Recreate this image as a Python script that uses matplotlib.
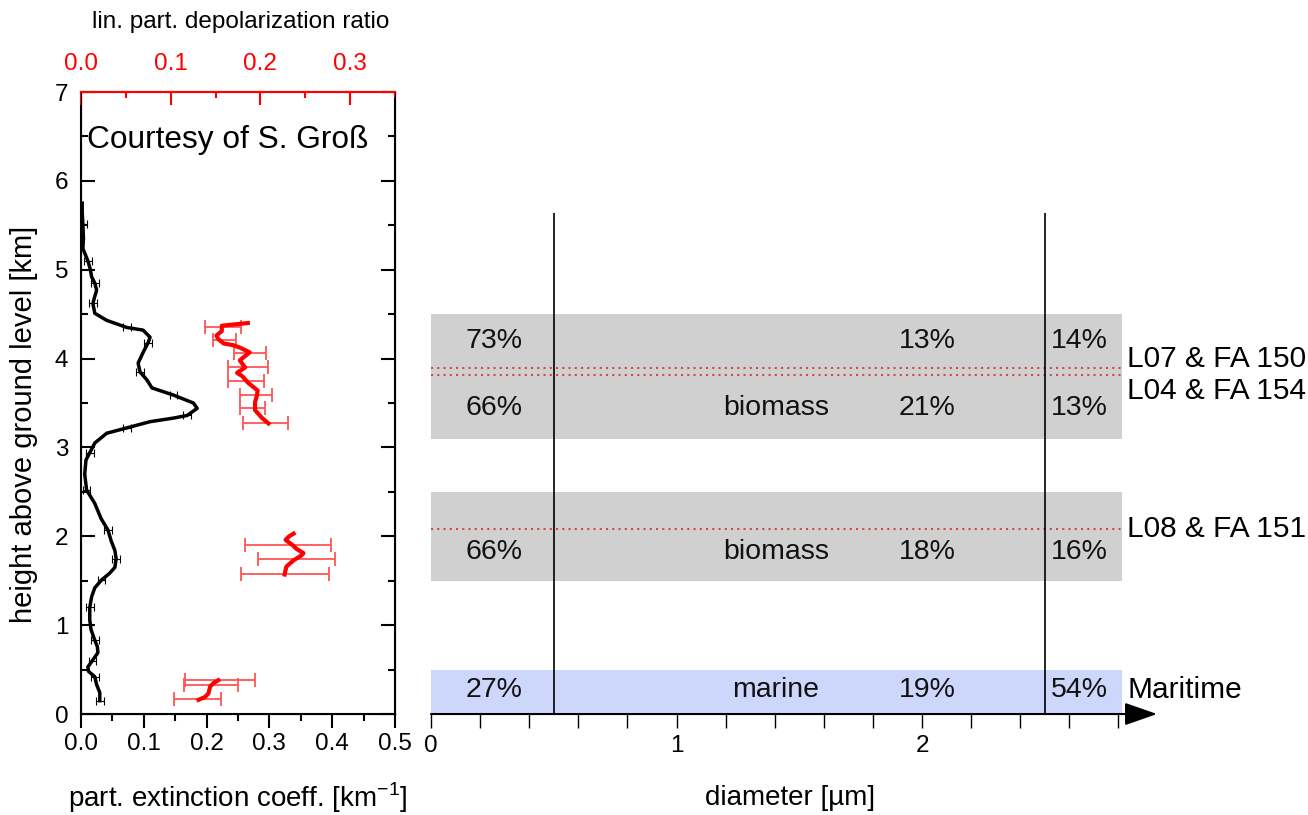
import matplotlib
matplotlib.use("Agg")
import matplotlib.pyplot as plt
from matplotlib.ticker import MultipleLocator, FixedLocator

plt.rcParams['font.family'] = ['Liberation Sans', 'DejaVu Sans']

# extinction profile (black), height [km] vs part. extinction coeff [1/km]
ext_height = [0.15, 0.24, 0.33, 0.42, 0.48, 0.53, 0.60, 0.69, 0.76, 0.83, 0.95, 1.06,
              1.20, 1.32, 1.42, 1.51, 1.58, 1.65, 1.75, 1.84, 1.95, 2.07, 2.20, 2.37,
              2.52, 2.70, 2.86, 2.94, 3.05, 3.16, 3.22, 3.29, 3.33, 3.36, 3.44, 3.50,
              3.59, 3.67, 3.76, 3.85, 3.95, 4.07, 4.18, 4.24, 4.32, 4.35, 4.43, 4.51,
              4.62, 4.70, 4.77, 4.85, 4.92, 5.00, 5.10, 5.24, 5.35, 5.52, 5.65, 5.75]
ext_value = [0.030, 0.030, 0.025, 0.022, 0.012, 0.011, 0.018, 0.027, 0.026, 0.022, 0.016, 0.014,
             0.014, 0.017, 0.022, 0.033, 0.045, 0.054, 0.056, 0.054, 0.048, 0.043, 0.032, 0.022,
             0.009, 0.006, 0.008, 0.014, 0.022, 0.041, 0.073, 0.110, 0.147, 0.169, 0.185, 0.179,
             0.147, 0.113, 0.105, 0.094, 0.091, 0.099, 0.107, 0.110, 0.099, 0.073, 0.041, 0.022,
             0.019, 0.022, 0.025, 0.022, 0.017, 0.015, 0.011, 0.003, 0.004, 0.003, 0.002, 0.002]
ext_err = 0.006

# depolarization ratio (red), three layers
dep_height = [[3.27, 3.33, 3.42, 3.51, 3.58, 3.64, 3.73, 3.80, 3.84, 3.90, 3.98, 4.07,
               4.12, 4.15, 4.17, 4.22, 4.26, 4.31, 4.37, 4.40],
              [1.57, 1.62, 1.66, 1.73, 1.78, 1.81, 1.86, 1.90, 1.96, 2.00, 2.03],
              [0.16, 0.19, 0.23, 0.27, 0.31, 0.35, 0.38]]
dep_value = [[0.209, 0.202, 0.194, 0.194, 0.196, 0.197, 0.186, 0.180, 0.174, 0.183, 0.177, 0.188,
              0.178, 0.170, 0.159, 0.153, 0.151, 0.157, 0.157, 0.186],
             [0.227, 0.228, 0.229, 0.237, 0.245, 0.248, 0.240, 0.236, 0.228, 0.232, 0.237],
             [0.131, 0.138, 0.142, 0.143, 0.144, 0.148, 0.153]]

# depolarization error bars
dep_err_height = [4.36, 4.21, 4.06, 3.90, 3.75, 3.59, 3.44, 3.28, 1.90, 1.74, 1.58, 0.38, 0.33, 0.17]
dep_err_center = [0.158, 0.160, 0.188, 0.186, 0.184, 0.195, 0.191, 0.206, 0.231, 0.240, 0.227,
                  0.155, 0.145, 0.130]
dep_err_size = [0.020, 0.013, 0.018, 0.022, 0.020, 0.018, 0.014, 0.025, 0.048, 0.043, 0.049,
                0.039, 0.030, 0.026]

# size distribution layers
layer_bottom = [0.0, 1.5, 3.1]
layer_top = [0.5, 2.5, 4.5]
layer_colors = ['#cdd7fb', '#d0d0d0', '#d0d0d0']
box_end = 2.815
mode_bounds = [0.5, 2.5]
flight_heights = [3.89, 3.81, 2.08]

row_heights = [4.20, 3.44, 1.82, 0.27]
row_x = [0.255, 1.405, 2.02, 2.64]
row_texts = [['73%', '', '13%', '14%'],
             ['66%', 'biomass', '21%', '13%'],
             ['66%', 'biomass', '18%', '16%'],
             ['27%', 'marine', '19%', '54%']]

flight_labels = ['L07 & FA 150', 'L04 & FA 154', 'L08 & FA 151', 'Maritime']
flight_label_h = [4.00, 3.64, 2.08, 0.27]

fig = plt.figure(figsize=(13.08, 8.15), dpi=100)

# ---- left panel: lidar profile
ax = fig.add_axes([0.0619, 0.1239, 0.2401, 0.7632])
ax.plot(ext_value, ext_height, color='black', lw=2.5, zorder=3)
ax.errorbar(ext_value[::3], ext_height[::3], xerr=ext_err, fmt='none', ecolor='black',
            elinewidth=0.8, capsize=3, capthick=0.8, zorder=3)
ax.set_xlim(0, 0.5)
ax.set_ylim(0, 7)
ax.xaxis.set_major_locator(MultipleLocator(0.1))
ax.xaxis.set_minor_locator(MultipleLocator(0.05))
ax.yaxis.set_major_locator(MultipleLocator(1))
ax.yaxis.set_minor_locator(MultipleLocator(0.5))
ax.xaxis.set_major_formatter(matplotlib.ticker.FormatStrFormatter('%.1f'))
ax.tick_params(axis='x', which='major', direction='out', length=10, width=1.5, labelsize=17.5, pad=4)
ax.tick_params(axis='x', which='minor', direction='out', length=5, width=1.5)
ax.tick_params(axis='y', which='major', direction='in', length=10, width=1.5, labelsize=17.5,
               right=True, pad=9)
ax.tick_params(axis='y', which='minor', direction='in', length=5, width=1.5, right=True)
for s in ax.spines.values():
    s.set_linewidth(1.5)
ax.set_ylabel('height above ground level [km]', fontsize=21)
ax.yaxis.set_label_coords(-0.18, 0.465)
ax.yaxis.label.set_va('center')
ax.set_xlabel('part. extinction coeff. [km$^{\\mathregular{-1}}$]', fontsize=20)
ax.xaxis.set_label_coords(0.50, -0.135)
ax.xaxis.label.set_va('center')
ax.text(0.02, 0.923, 'Courtesy of S. Groß', transform=ax.transAxes, fontsize=22.8,
        ha='left', va='center')

ax2 = ax.twiny()
for h, d in zip(dep_height, dep_value):
    ax2.plot(d, h, color='#ff0000', lw=3, zorder=4)
ax2.errorbar(dep_err_center, dep_err_height, xerr=dep_err_size, fmt='none', ecolor='#ff5555',
             elinewidth=1.3, capsize=5, capthick=1.3)
ax2.set_xlim(0, 0.35)
ax2.xaxis.set_major_locator(MultipleLocator(0.1))
ax2.xaxis.set_minor_locator(MultipleLocator(0.05))
ax2.xaxis.set_major_formatter(matplotlib.ticker.FormatStrFormatter('%.1f'))
ax2.tick_params(axis='x', which='major', direction='in', length=9, width=1.5, colors='#ff0000',
                labelsize=17.5, pad=12)
ax2.tick_params(axis='x', which='minor', direction='in', length=4, width=1.5, colors='#ff0000')
ax2.spines['top'].set_color('#ff0000')
ax2.spines['top'].set_linewidth(1.5)
ax2.set_xlabel('lin. part. depolarization ratio', fontsize=17.5)
ax2.xaxis.set_label_coords(0.51, 1.112)
ax2.xaxis.label.set_va('center')

# ---- right panel: size distribution scheme
ax3 = fig.add_axes([0.3295, 0.1239, 0.6705, 0.7632])
ax3.set_xlim(0, 3.572)
ax3.set_ylim(0, 7)
for b, t, c in zip(layer_bottom, layer_top, layer_colors):
    ax3.fill_between([0, box_end], b, t, color=c, lw=0, zorder=1)
ax3.hlines(flight_heights, 0, box_end, colors='#d04848', linestyles=(0, (1, 2)), lw=1.5, zorder=2)
ax3.vlines(mode_bounds, 0, 5.64, colors='black', lw=1.2, zorder=3)
for h, texts in zip(row_heights, row_texts):
    for x, s in zip(row_x, texts):
        ax3.text(x, h, s, fontsize=20.5, ha='center', va='center', color='#111111', zorder=4)
for s, h in zip(flight_labels, flight_label_h):
    ax3.text(2.835, h, s, fontsize=21.5, ha='left', va='center', zorder=4)
ax3.annotate('', xy=(2.957, 0), xytext=(0, 0),
             arrowprops=dict(arrowstyle='-|>,head_length=1.0,head_width=0.35',
                             mutation_scale=20, lw=1.5, color='black',
                             shrinkA=0, shrinkB=0), zorder=5)
for s in ax3.spines.values():
    s.set_visible(False)
ax3.set_yticks([])
ax3.xaxis.set_major_locator(FixedLocator([0, 1, 2]))
ax3.xaxis.set_minor_locator(FixedLocator([0.2, 0.4, 0.6, 0.8, 1.2, 1.4, 1.6, 1.8,
                                          2.2, 2.4, 2.6, 2.8]))
ax3.tick_params(axis='x', which='both', direction='out', length=10, width=1, labelsize=17.5, pad=5)
ax3.set_xlabel('diameter [µm]', fontsize=20)
ax3.xaxis.set_label_coords(0.41, -0.135)
ax3.xaxis.label.set_va('center')
ax3.patch.set_alpha(0)

fig.savefig('out.png', dpi=100)
